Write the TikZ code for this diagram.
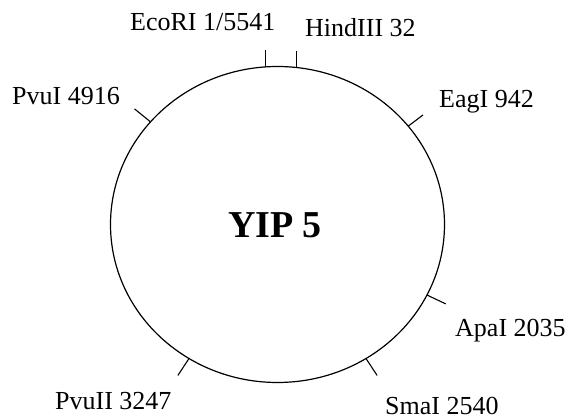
\documentclass[tikz,border=0pt]{standalone}
\usepackage{fontspec}
\setmainfont{Liberation Serif}
\usetikzlibrary{calc}

\tikzset{
  sitelabel/.style={anchor=base west, inner sep=0pt, font=\fontsize{26}{31}\selectfont},
  cutmark/.style={line width=1.1pt}
}

\begin{document}
\begin{tikzpicture}[x=1pt,y=1pt]
\useasboundingbox (0,0) rectangle (566,420);
% plasmid
\coordinate (c) at (277.5,195.5);
\draw[line width=1.2pt] (c) ellipse (167 and 158);
\node[anchor=base, inner sep=0pt, font=\fontsize{38}{46}\selectfont\bfseries] (yip) at (275,182) {YIP 5};
% cut sites
\coordinate (ecoA) at ($(c)+(94:167 and 158)$);
\coordinate (hindA) at ($(c)+(83.5:167 and 158)$);
\coordinate (eagA) at ($(c)+(38.5:167 and 158)$);
\coordinate (eagB) at ($(c)+(38.5:186 and 176)$);
\coordinate (apaA) at ($(c)+(-26.5:167 and 158)$);
\coordinate (apaB) at ($(c)+(-26.5:188 and 178)$);
\coordinate (smaA) at ($(c)+(-58:167 and 158)$);
\coordinate (smaB) at ($(c)+(-58:188 and 178)$);
\coordinate (pvuiiA) at ($(c)+(238:167 and 158)$);
\coordinate (pvuiiB) at ($(c)+(238:188 and 178)$);
\coordinate (pvuiA) at ($(c)+(139.5:167 and 158)$);
\coordinate (pvuiB) at ($(c)+(139.5:188 and 178)$);
\draw[cutmark] (ecoA) -- ++(0,17);
\draw[cutmark] (hindA) -- ++(0,17);
\draw[cutmark] (eagA) -- (eagB);
\draw[cutmark] (apaA) -- (apaB);
\draw[cutmark] (smaA) -- (smaB);
\draw[cutmark] (pvuiiA) -- (pvuiiB);
\draw[cutmark] (pvuiA) -- (pvuiB);
% labels
\node[sitelabel] (eco) at (130,389) {EcoRI 1/5541};
\node[sitelabel] (hind) at (305,383) {HindIII 32};
\node[sitelabel] (eag) at (439,312) {EagI 942};
\node[sitelabel] (apa) at (455,83) {ApaI 2035};
\node[sitelabel] (sma) at (385,5) {SmaI 2540};
\node[sitelabel] (pvuii) at (55,10) {PvuII 3247};
\node[sitelabel] (pvui) at (12,315) {PvuI 4916};
\end{tikzpicture}
\end{document}
